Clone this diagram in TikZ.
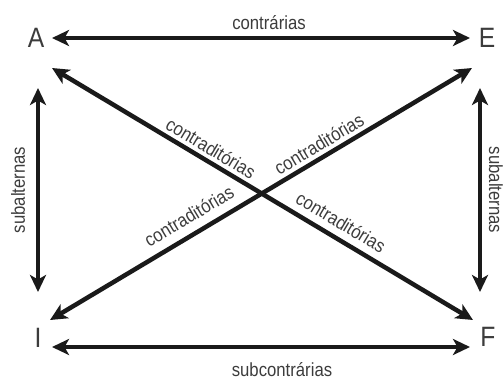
\documentclass[tikz,border=0pt]{standalone}
\usepackage{fontspec}
\setmainfont{Liberation Sans}[FakeStretch=0.88]
\usetikzlibrary{arrows.meta}
\definecolor{txt}{HTML}{3C3C3C}
\definecolor{arr}{HTML}{1A1A1A}
\begin{document}
\begin{tikzpicture}[x=1pt,y=-1pt,
  letter/.style={font=\fontsize{28}{28}\selectfont, text=txt, inner sep=0pt},
  lbl/.style={font=\fontsize{19}{19}\selectfont, text=txt, inner sep=0pt},
  tip/.tip={Stealth[length=17pt,width=16pt,inset=4.5pt]},
  link/.style={draw=arr, line width=4.5pt, tip-tip}]
\useasboundingbox (0,0) rectangle (503,380);
% corner letters
\node[letter] (A) at (36,38) {A};
\node[letter] (E) at (487,38) {E};
\node[letter] (I) at (38,338) {I};
\node[letter] (F) at (488,337) {F};
% arrow end points
\coordinate (ae1) at (52,38);   \coordinate (ae2) at (470,38);
\coordinate (if1) at (52,347);  \coordinate (if2) at (470,347);
\coordinate (ai1) at (38,88);   \coordinate (ai2) at (38,292);
\coordinate (ef1) at (480,88);  \coordinate (ef2) at (480,292);
\coordinate (af1) at (52,68);   \coordinate (af2) at (473,320);
\coordinate (ie1) at (50,320);  \coordinate (ie2) at (472,68);
% connectors
\draw[link] (ae1) -- (ae2);
\draw[link] (if1) -- (if2);
\draw[link] (ai1) -- (ai2);
\draw[link] (ef1) -- (ef2);
\draw[link] (af1) -- (af2);
\draw[link] (ie1) -- (ie2);
% labels
\node[lbl] (lc) at (269,23) {contrárias};
\node[lbl] (lsc) at (282,370) {subcontrárias};
\node[lbl, rotate=90] (lsl) at (18,190) {subalternas};
\node[lbl, rotate=-90] (lsr) at (496,190) {subalternas};
\node[lbl, rotate=-30.9] (c1) at (211,148) {contraditórias};
\node[lbl, rotate=-30.9] (c2) at (341,222) {contraditórias};
\node[lbl, rotate=30.9] (c3) at (319,144) {contraditórias};
\node[lbl, rotate=30.9] (c4) at (189,216) {contraditórias};
\end{tikzpicture}
\end{document}
